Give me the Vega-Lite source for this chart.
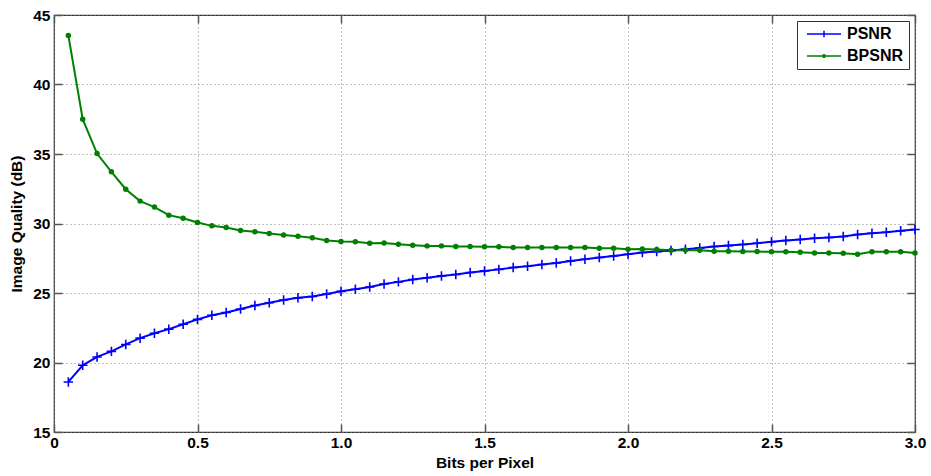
{
  "$schema": "https://vega.github.io/schema/vega-lite/v6.json",
  "width": 861,
  "height": 417,
  "autosize": {"type": "none"},
  "padding": {"left": 54, "top": 15, "right": 16, "bottom": 44},
  "background": "white",
  "config": {
    "view": {"stroke": "#333333", "strokeWidth": 1.2},
    "font": "Liberation Sans",
    "axis": {
      "labelFont": "Liberation Sans", "labelFontWeight": "bold", "labelFontSize": 15.5, "labelColor": "#000000",
      "titleFont": "Liberation Sans", "titleFontWeight": "bold", "titleFontSize": 15.5, "titleColor": "#000000",
      "domain": false, "tickColor": "#555555", "tickWidth": 1.5, "tickSize": -8,
      "gridColor": "#808080", "gridDash": [1, 3], "gridWidth": 1
    }
  },
  "datasets": {
    "curves": [
      {"bpp": 0.05, "q": 18.6, "series": "PSNR"},
      {"bpp": 0.10, "q": 19.8, "series": "PSNR"},
      {"bpp": 0.15, "q": 20.4, "series": "PSNR"},
      {"bpp": 0.20, "q": 20.8, "series": "PSNR"},
      {"bpp": 0.25, "q": 21.3, "series": "PSNR"},
      {"bpp": 0.30, "q": 21.75, "series": "PSNR"},
      {"bpp": 0.35, "q": 22.1, "series": "PSNR"},
      {"bpp": 0.40, "q": 22.4, "series": "PSNR"},
      {"bpp": 0.45, "q": 22.75, "series": "PSNR"},
      {"bpp": 0.50, "q": 23.1, "series": "PSNR"},
      {"bpp": 0.55, "q": 23.4, "series": "PSNR"},
      {"bpp": 0.60, "q": 23.6, "series": "PSNR"},
      {"bpp": 0.65, "q": 23.85, "series": "PSNR"},
      {"bpp": 0.70, "q": 24.1, "series": "PSNR"},
      {"bpp": 0.75, "q": 24.3, "series": "PSNR"},
      {"bpp": 0.80, "q": 24.5, "series": "PSNR"},
      {"bpp": 0.85, "q": 24.65, "series": "PSNR"},
      {"bpp": 0.90, "q": 24.75, "series": "PSNR"},
      {"bpp": 0.95, "q": 24.93, "series": "PSNR"},
      {"bpp": 1.00, "q": 25.12, "series": "PSNR"},
      {"bpp": 1.05, "q": 25.27, "series": "PSNR"},
      {"bpp": 1.10, "q": 25.43, "series": "PSNR"},
      {"bpp": 1.15, "q": 25.65, "series": "PSNR"},
      {"bpp": 1.20, "q": 25.8, "series": "PSNR"},
      {"bpp": 1.25, "q": 25.97, "series": "PSNR"},
      {"bpp": 1.30, "q": 26.1, "series": "PSNR"},
      {"bpp": 1.35, "q": 26.23, "series": "PSNR"},
      {"bpp": 1.40, "q": 26.33, "series": "PSNR"},
      {"bpp": 1.45, "q": 26.47, "series": "PSNR"},
      {"bpp": 1.50, "q": 26.59, "series": "PSNR"},
      {"bpp": 1.55, "q": 26.7, "series": "PSNR"},
      {"bpp": 1.60, "q": 26.83, "series": "PSNR"},
      {"bpp": 1.65, "q": 26.92, "series": "PSNR"},
      {"bpp": 1.70, "q": 27.05, "series": "PSNR"},
      {"bpp": 1.75, "q": 27.16, "series": "PSNR"},
      {"bpp": 1.80, "q": 27.3, "series": "PSNR"},
      {"bpp": 1.85, "q": 27.43, "series": "PSNR"},
      {"bpp": 1.90, "q": 27.55, "series": "PSNR"},
      {"bpp": 1.95, "q": 27.66, "series": "PSNR"},
      {"bpp": 2.00, "q": 27.79, "series": "PSNR"},
      {"bpp": 2.05, "q": 27.91, "series": "PSNR"},
      {"bpp": 2.10, "q": 27.98, "series": "PSNR"},
      {"bpp": 2.15, "q": 28.05, "series": "PSNR"},
      {"bpp": 2.20, "q": 28.15, "series": "PSNR"},
      {"bpp": 2.25, "q": 28.24, "series": "PSNR"},
      {"bpp": 2.30, "q": 28.34, "series": "PSNR"},
      {"bpp": 2.35, "q": 28.41, "series": "PSNR"},
      {"bpp": 2.40, "q": 28.49, "series": "PSNR"},
      {"bpp": 2.45, "q": 28.58, "series": "PSNR"},
      {"bpp": 2.50, "q": 28.68, "series": "PSNR"},
      {"bpp": 2.55, "q": 28.78, "series": "PSNR"},
      {"bpp": 2.60, "q": 28.85, "series": "PSNR"},
      {"bpp": 2.65, "q": 28.94, "series": "PSNR"},
      {"bpp": 2.70, "q": 28.99, "series": "PSNR"},
      {"bpp": 2.75, "q": 29.06, "series": "PSNR"},
      {"bpp": 2.80, "q": 29.21, "series": "PSNR"},
      {"bpp": 2.85, "q": 29.3, "series": "PSNR"},
      {"bpp": 2.90, "q": 29.37, "series": "PSNR"},
      {"bpp": 2.95, "q": 29.47, "series": "PSNR"},
      {"bpp": 3.00, "q": 29.57, "series": "PSNR"},
      {"bpp": 0.05, "q": 43.53, "series": "BPSNR"},
      {"bpp": 0.10, "q": 37.5, "series": "BPSNR"},
      {"bpp": 0.15, "q": 35.03, "series": "BPSNR"},
      {"bpp": 0.20, "q": 33.72, "series": "BPSNR"},
      {"bpp": 0.25, "q": 32.47, "series": "BPSNR"},
      {"bpp": 0.30, "q": 31.61, "series": "BPSNR"},
      {"bpp": 0.35, "q": 31.18, "series": "BPSNR"},
      {"bpp": 0.40, "q": 30.6, "series": "BPSNR"},
      {"bpp": 0.45, "q": 30.38, "series": "BPSNR"},
      {"bpp": 0.50, "q": 30.07, "series": "BPSNR"},
      {"bpp": 0.55, "q": 29.83, "series": "BPSNR"},
      {"bpp": 0.60, "q": 29.71, "series": "BPSNR"},
      {"bpp": 0.65, "q": 29.5, "series": "BPSNR"},
      {"bpp": 0.70, "q": 29.4, "series": "BPSNR"},
      {"bpp": 0.75, "q": 29.28, "series": "BPSNR"},
      {"bpp": 0.80, "q": 29.18, "series": "BPSNR"},
      {"bpp": 0.85, "q": 29.08, "series": "BPSNR"},
      {"bpp": 0.90, "q": 28.98, "series": "BPSNR"},
      {"bpp": 0.95, "q": 28.78, "series": "BPSNR"},
      {"bpp": 1.00, "q": 28.7, "series": "BPSNR"},
      {"bpp": 1.05, "q": 28.68, "series": "BPSNR"},
      {"bpp": 1.10, "q": 28.58, "series": "BPSNR"},
      {"bpp": 1.15, "q": 28.6, "series": "BPSNR"},
      {"bpp": 1.20, "q": 28.51, "series": "BPSNR"},
      {"bpp": 1.25, "q": 28.44, "series": "BPSNR"},
      {"bpp": 1.30, "q": 28.39, "series": "BPSNR"},
      {"bpp": 1.35, "q": 28.39, "series": "BPSNR"},
      {"bpp": 1.40, "q": 28.34, "series": "BPSNR"},
      {"bpp": 1.45, "q": 28.34, "series": "BPSNR"},
      {"bpp": 1.50, "q": 28.32, "series": "BPSNR"},
      {"bpp": 1.55, "q": 28.32, "series": "BPSNR"},
      {"bpp": 1.60, "q": 28.27, "series": "BPSNR"},
      {"bpp": 1.65, "q": 28.27, "series": "BPSNR"},
      {"bpp": 1.70, "q": 28.27, "series": "BPSNR"},
      {"bpp": 1.75, "q": 28.27, "series": "BPSNR"},
      {"bpp": 1.80, "q": 28.27, "series": "BPSNR"},
      {"bpp": 1.85, "q": 28.27, "series": "BPSNR"},
      {"bpp": 1.90, "q": 28.22, "series": "BPSNR"},
      {"bpp": 1.95, "q": 28.22, "series": "BPSNR"},
      {"bpp": 2.00, "q": 28.15, "series": "BPSNR"},
      {"bpp": 2.05, "q": 28.17, "series": "BPSNR"},
      {"bpp": 2.10, "q": 28.13, "series": "BPSNR"},
      {"bpp": 2.15, "q": 28.08, "series": "BPSNR"},
      {"bpp": 2.20, "q": 28.1, "series": "BPSNR"},
      {"bpp": 2.25, "q": 28.08, "series": "BPSNR"},
      {"bpp": 2.30, "q": 28.0, "series": "BPSNR"},
      {"bpp": 2.35, "q": 28.0, "series": "BPSNR"},
      {"bpp": 2.40, "q": 27.98, "series": "BPSNR"},
      {"bpp": 2.45, "q": 27.98, "series": "BPSNR"},
      {"bpp": 2.50, "q": 27.96, "series": "BPSNR"},
      {"bpp": 2.55, "q": 27.96, "series": "BPSNR"},
      {"bpp": 2.60, "q": 27.93, "series": "BPSNR"},
      {"bpp": 2.65, "q": 27.88, "series": "BPSNR"},
      {"bpp": 2.70, "q": 27.88, "series": "BPSNR"},
      {"bpp": 2.75, "q": 27.86, "series": "BPSNR"},
      {"bpp": 2.80, "q": 27.79, "series": "BPSNR"},
      {"bpp": 2.85, "q": 27.96, "series": "BPSNR"},
      {"bpp": 2.90, "q": 27.96, "series": "BPSNR"},
      {"bpp": 2.95, "q": 27.96, "series": "BPSNR"},
      {"bpp": 3.00, "q": 27.88, "series": "BPSNR"}
    ]
  },
  "data": {"name": "curves"},
  "resolve": {"axis": {"x": "independent", "y": "independent"}},
  "layer": [
    {
      "mark": {"type": "line", "strokeWidth": 2},
      "encoding": {
        "x": {"field": "bpp", "type": "quantitative", "scale": {"domain": [0, 3], "nice": false},
              "axis": {"title": "Bits per Pixel", "values": [0, 0.5, 1, 1.5, 2, 2.5, 3], "labelExpr": "datum.value == 0 ? '0' : format(datum.value, '.1f')", "grid": true, "labelPadding": 11, "titlePadding": 5, "labelFlush": false}},
        "y": {"field": "q", "type": "quantitative", "scale": {"domain": [15, 45], "nice": false, "zero": false},
              "axis": {"title": "Image Quality (dB)", "values": [15, 20, 25, 30, 35, 40, 45], "grid": true, "labelPadding": 12, "titlePadding": 8, "labelFlush": false}},
        "color": {"field": "series", "type": "nominal",
                  "scale": {"domain": ["PSNR", "BPSNR"], "range": ["#0000ff", "#008000"]},
                  "legend": {"title": null, "orient": "top-right", "offset": 6, "fillColor": "white", "strokeColor": "#333333",
                             "padding": 5, "rowPadding": 6, "symbolSize": 64, "symbolOffset": 14, "labelOffset": 15,
                             "symbolStrokeWidth": 1.5, "labelFont": "Liberation Sans", "labelFontWeight": "bold", "labelFontSize": 16, "labelColor": "#000000",
                             "encode": {"symbols": {"update": {"shape": {"signal": "datum.value === 'PSNR' ? 'M-4.25,0H4.25M0,-0.8V0.8' : 'M-4.25,0H4.25M-0.3,0A0.3,0.3,0,1,0,0.3,0A0.3,0.3,0,1,0,-0.3,0'"}}}}}}
      }
    },
    {
      "transform": [{"filter": "datum.series === 'PSNR'"}],
      "mark": {"type": "point", "shape": "M-1,0H1M0,-1V1", "filled": false, "size": 90, "strokeWidth": 1.6, "color": "#0000ff", "opacity": 1},
      "encoding": {
        "x": {"field": "bpp", "type": "quantitative", "axis": null},
        "y": {"field": "q", "type": "quantitative", "axis": null}
      }
    },
    {
      "transform": [{"filter": "datum.series === 'BPSNR'"}],
      "mark": {"type": "point", "shape": "circle", "filled": true, "size": 30, "color": "#008000", "opacity": 1},
      "encoding": {
        "x": {"field": "bpp", "type": "quantitative", "axis": null},
        "y": {"field": "q", "type": "quantitative", "axis": null}
      }
    },
    {
      "mark": {"type": "point", "opacity": 0},
      "encoding": {
        "x": {"field": "bpp", "type": "quantitative", "axis": {"orient": "top", "title": null, "labels": false, "grid": false, "values": [0, 0.5, 1, 1.5, 2, 2.5, 3]}},
        "y": {"field": "q", "type": "quantitative", "axis": {"orient": "right", "title": null, "labels": false, "grid": false, "values": [15, 20, 25, 30, 35, 40, 45]}}
      }
    }
  ]
}
